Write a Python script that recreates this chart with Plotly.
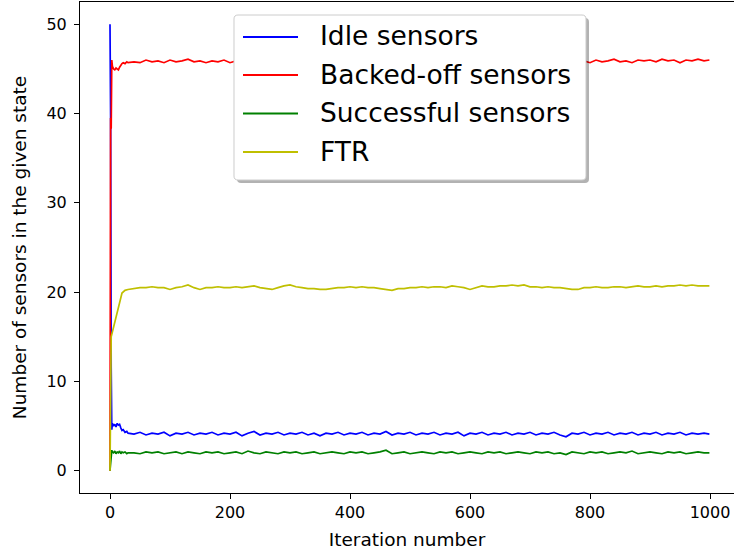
import plotly.graph_objects as go

# ---------------- data ----------------
# early iterations (transient)
early_iters = [0, 1, 2, 3, 4, 6, 8, 10, 12, 14, 16, 18, 20, 22, 25, 28, 30]
idle_early = [50, 39.8, 11.6, 4.6, 5.3, 5.0, 5.2, 4.9, 5.3, 5.1, 5.2, 4.8, 4.5, 4.6, 4.3, 4.4, 4.2]
backoff_early = [0, 39.5, 38.3, 46.0, 45.3, 45.0, 44.9, 45.1, 45.0, 44.9, 45.2, 45.5, 45.6, 45.7, 45.6, 45.8, 45.7]
success_early = [0, 0.8, 1.6, 2.3, 2.1, 2.0, 2.2, 1.9, 2.1, 2.0, 2.2, 1.9, 2.1, 2.0, 2.1, 1.9, 2.0]

ftr_early_iters = [0, 2, 20, 25, 30]
ftr_early = [0, 15.0, 19.9, 20.2, 20.3]

# steady-state iterations
iters = [40, 50, 60, 70, 80, 90, 100, 110, 120, 130,
         140, 150, 160, 170, 180, 190, 200, 210, 220, 230,
         240, 250, 260, 270, 280, 290, 300, 310, 320, 330,
         340, 350, 360, 370, 380, 390, 400, 410, 420, 430,
         440, 450, 460, 470, 480, 490, 500, 510, 520, 530,
         540, 550, 560, 570, 580, 590, 600, 610, 620, 630,
         640, 650, 660, 670, 680, 690, 700, 710, 720, 730,
         740, 750, 760, 770, 780, 790, 800, 810, 820, 830,
         840, 850, 860, 870, 880, 890, 900, 910, 920, 930,
         940, 950, 960, 970, 980, 990, 999]

idle = [4.1, 4.3, 4.0, 4.2, 4.1, 4.3, 3.9, 4.2, 4.1, 4.3,
        4.0, 4.2, 4.1, 4.3, 4.0, 4.2, 4.1, 4.3, 3.9, 4.2,
        4.4, 4.0, 4.2, 4.1, 4.3, 4.0, 4.2, 4.1, 4.3, 4.0,
        4.2, 3.9, 4.2, 4.1, 4.3, 4.0, 4.2, 4.1, 4.3, 4.0,
        4.2, 4.1, 4.4, 4.0, 4.2, 4.1, 4.3, 4.0, 4.2, 4.1,
        4.3, 4.0, 4.2, 4.1, 4.3, 3.9, 4.2, 4.1, 4.3, 4.0,
        4.2, 4.1, 4.3, 4.0, 4.2, 4.1, 4.3, 4.0, 4.2, 4.1,
        4.3, 4.0, 3.8, 4.2, 4.1, 4.3, 4.0, 4.2, 4.1, 4.3,
        4.0, 4.2, 4.1, 4.3, 4.0, 4.2, 4.1, 4.3, 4.0, 4.2,
        4.1, 4.3, 4.0, 4.2, 4.1, 4.2, 4.1]

backoff = [45.8, 45.7, 46.0, 45.8, 45.9, 45.7, 46.0, 45.8, 45.9, 46.1,
           45.8, 45.9, 45.7, 45.9, 45.8, 46.0, 45.7, 45.9, 45.8, 46.0,
           45.7, 45.9, 45.8, 46.0, 45.8, 45.9, 45.7, 45.9, 45.8, 46.0,
           45.8, 45.9, 45.7, 45.9, 45.8, 46.0, 45.8, 45.9, 45.7, 46.0,
           45.8, 45.9, 45.8, 46.0, 45.7, 45.9, 45.8, 46.0, 45.8, 45.9,
           45.7, 45.9, 45.8, 46.0, 45.8, 45.9, 45.8, 46.0, 45.7, 45.9,
           45.8, 46.0, 45.8, 45.9, 45.7, 46.0, 45.8, 45.9, 45.8, 46.0,
           45.8, 45.9, 45.7, 46.0, 45.8, 45.9, 45.7, 46.0, 45.8, 45.9,
           46.1, 45.8, 45.9, 45.7, 46.0, 45.9, 46.0, 45.8, 46.1, 45.9,
           46.0, 45.7, 46.0, 45.9, 46.1, 45.9, 46.0]

success = [2.0, 1.9, 2.1, 2.0, 2.1, 1.9, 2.0, 2.1, 1.9, 2.1,
           2.0, 1.9, 2.1, 2.0, 2.1, 1.9, 2.0, 2.1, 1.9, 2.2,
           2.0, 1.9, 2.1, 2.0, 1.9, 2.1, 2.0, 2.1, 1.9, 2.0,
           2.1, 1.9, 2.0, 2.1, 2.0, 1.9, 2.1, 2.0, 2.1, 1.9,
           2.0, 2.1, 2.3, 1.9, 2.0, 2.1, 1.9, 2.0, 2.1, 2.0,
           1.9, 2.1, 2.0, 2.1, 1.9, 2.0, 2.1, 2.0, 1.9, 2.1,
           2.0, 2.1, 1.9, 2.0, 2.1, 2.0, 1.9, 2.1, 2.0, 2.1,
           1.9, 2.0, 1.8, 2.1, 2.0, 1.9, 2.1, 2.0, 2.1, 1.9,
           2.0, 2.1, 2.0, 2.2, 1.9, 2.0, 2.1, 2.0, 1.9, 2.1,
           2.0, 2.1, 1.9, 2.0, 2.1, 2.0, 2.0]

ftr = [20.4, 20.5, 20.5, 20.6, 20.5, 20.5, 20.3, 20.5, 20.6, 20.8,
       20.5, 20.3, 20.5, 20.5, 20.6, 20.5, 20.5, 20.6, 20.5, 20.6,
       20.7, 20.5, 20.4, 20.3, 20.5, 20.7, 20.8, 20.6, 20.5, 20.4,
       20.4, 20.3, 20.3, 20.4, 20.5, 20.5, 20.6, 20.5, 20.6, 20.5,
       20.5, 20.4, 20.3, 20.2, 20.4, 20.4, 20.5, 20.5, 20.6, 20.5,
       20.6, 20.6, 20.5, 20.7, 20.6, 20.5, 20.3, 20.5, 20.7, 20.6,
       20.6, 20.7, 20.7, 20.8, 20.7, 20.8, 20.6, 20.6, 20.5, 20.6,
       20.5, 20.5, 20.4, 20.3, 20.3, 20.5, 20.5, 20.6, 20.5, 20.5,
       20.6, 20.6, 20.5, 20.6, 20.7, 20.6, 20.6, 20.7, 20.6, 20.7,
       20.7, 20.8, 20.7, 20.8, 20.7, 20.7, 20.7]

series_names = ["Idle sensors", "Backed-off sensors", "Successful sensors", "FTR"]
series_colors = ["#0000ff", "#ff0000", "#008000", "#bfbf00"]

# ---------------- figure ----------------
W, H = 734, 554
L, R, T, B = 80, 0, 2, 61
pw, ph = W - L - R, H - T - B

fig = go.Figure()
xs = [early_iters + iters, early_iters + iters, early_iters + iters, ftr_early_iters + iters]
ys = [idle_early + idle, backoff_early + backoff, success_early + success, ftr_early + ftr]
for name, color, x, y in zip(series_names, series_colors, xs, ys):
    fig.add_trace(go.Scatter(x=x, y=y, mode="lines", name=name, showlegend=False,
                             line=dict(color=color, width=1.7)))


def px_x(p):
    return (p - L) / pw


def px_y(p):
    return (H - B - p) / ph


def rounded_rect_path(x0, y0, x1, y1, r):
    # pixel coords -> paper path with rounded corners (quadratic)
    pts = [
        ("M", x0 + r, y0), ("L", x1 - r, y0), ("Q", x1, y0, x1, y0 + r),
        ("L", x1, y1 - r), ("Q", x1, y1, x1 - r, y1), ("L", x0 + r, y1),
        ("Q", x0, y1, x0, y1 - r), ("L", x0, y0 + r), ("Q", x0, y0, x0 + r, y0),
    ]
    out = []
    for p in pts:
        cmd = p[0]
        coords = p[1:]
        s = cmd
        for i in range(0, len(coords), 2):
            s += f"{px_x(coords[i]):.5f},{px_y(coords[i + 1]):.5f} "
        out.append(s.strip())
    return " ".join(out) + " Z"


# ---------- legend (drawn manually to match box / sample geometry) ----------
lx0, ly0, lx1, ly1 = 234, 15, 586, 180
entry_y = [37, 75, 113.5, 152]
sample_x0, sample_x1, text_x = 243, 298, 318

fig.add_shape(type="path", xref="paper", yref="paper", layer="above",
              path=rounded_rect_path(lx0 + 3, ly0 + 3, lx1 + 3, ly1 + 3, 4),
              line=dict(width=0), fillcolor="rgba(0,0,0,0.3)")
fig.add_shape(type="path", xref="paper", yref="paper", layer="above",
              path=rounded_rect_path(lx0, ly0, lx1, ly1, 4),
              line=dict(width=1, color="#cccccc"), fillcolor="white")
for name, color, yy in zip(series_names, series_colors, entry_y):
    fig.add_shape(type="line", xref="paper", yref="paper", layer="above",
                  x0=px_x(sample_x0), x1=px_x(sample_x1), y0=px_y(yy), y1=px_y(yy),
                  line=dict(color=color, width=2))
    fig.add_annotation(xref="paper", yref="paper", x=px_x(text_x), y=px_y(yy - 1),
                       xanchor="left", yanchor="middle", showarrow=False, text=name,
                       font=dict(family="DejaVu Sans", size=26.5, color="#000000"))

tick_font = dict(family="DejaVu Sans", size=16, color="#000000")
title_font = dict(family="DejaVu Sans", size=18.5, color="#000000")
fig.update_layout(
    width=W, height=H,
    margin=dict(l=L, r=R, t=T, b=B),
    paper_bgcolor="white", plot_bgcolor="white",
    font=dict(family="DejaVu Sans", color="#000000"),
    showlegend=False,
    xaxis=dict(range=[-50, 1040], showgrid=False, zeroline=False,
               showline=True, linecolor="#000000", linewidth=1, mirror=True,
               ticks="outside", ticklen=5, tickcolor="#000000",
               tickvals=[0, 200, 400, 600, 800, 1000], tickfont=tick_font,
               title=dict(text="Iteration number", font=title_font, standoff=11)),
    yaxis=dict(range=[-2.5, 52.5], showgrid=False, zeroline=False,
               showline=True, linecolor="#000000", linewidth=1,
               ticks="outside", ticklen=5, tickcolor="#000000",
               tickvals=[0, 10, 20, 30, 40, 50], tickfont=tick_font,
               ticklabelstandoff=4,
               title=dict(text="Number of sensors in the given state", font=title_font, standoff=14)),
)

fig.write_html("out.html")
